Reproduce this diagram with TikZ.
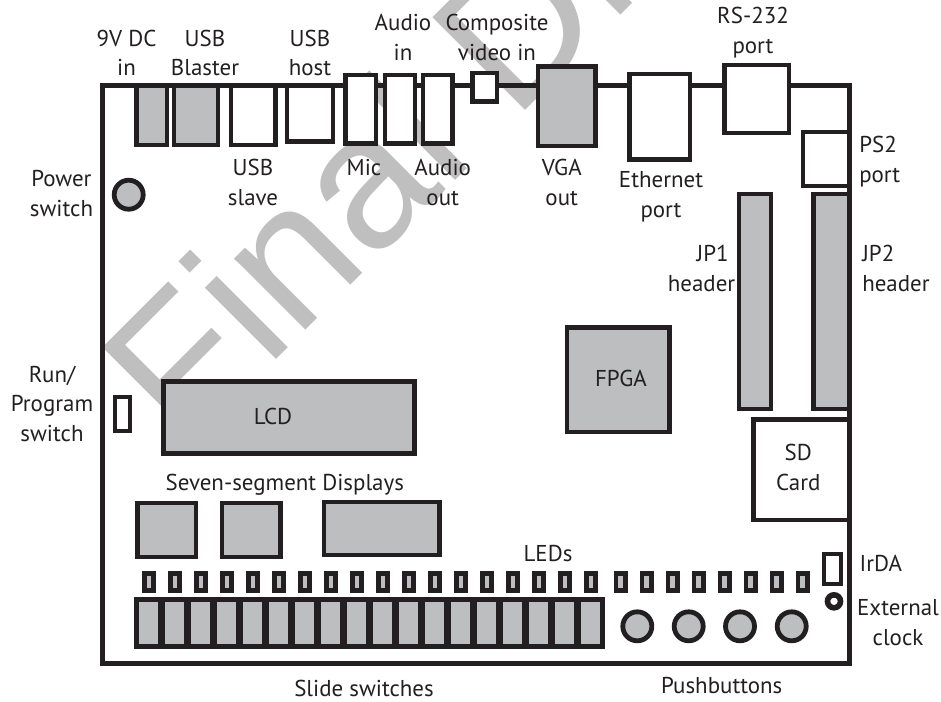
\documentclass[tikz,border=0pt]{standalone}
\usepackage{fontspec}
\setmainfont{PT Sans}
\newfontfamily\markfont{Liberation Sans}
\definecolor{boardink}{HTML}{231F20}
\definecolor{chipgray}{HTML}{BCBEC0}
\definecolor{markgray}{HTML}{BFBFBF}
\tikzset{
  part/.style={draw=boardink, line width=3.6pt, fill=white},
  chip/.style={part, fill=chipgray},
  lbl/.style={font=\fontsize{17.2}{22}\selectfont, text=boardink, align=center, anchor=base, inner sep=0pt},
  wmark/.style={font=\markfont\fontsize{143}{143}\selectfont, text=markgray, anchor=base west, inner sep=0pt, rotate=45},
}
\begin{document}
\begin{tikzpicture}[x=0.75pt,y=-0.75pt]
  \useasboundingbox (0,0) rectangle (941,701);
  % watermark
  \begin{scope}
    \clip (0,0) rectangle (941,701);
    \node[wmark] (draftmark) at (184.5,451.5) {Final Draft};
  \end{scope}
  % board outline
  \draw[draw=boardink, line width=3.75pt] (102.5,85.5) rectangle (849.5,663);
  % top edge connectors
  \draw[chip] (136.5,85.5) rectangle (167,145);
  \draw[chip] (174,85.5) rectangle (218,145);
  \draw[part] (231,85.5) rectangle (275.5,145);
  \draw[part] (287,85.5) rectangle (333,141.5);
  \draw[part] (345.8,75) rectangle (376,143.5);
  \draw[part] (385,75) rectangle (415,143.5);
  \draw[part] (423,75) rectangle (452.5,143.5);
  \draw[part] (472.5,73) rectangle (497,101.5);
  \draw[chip] (538,66.5) rectangle (595.5,146);
  \draw[part] (629.5,74) rectangle (690,159.5);
  \draw[part] (724.5,65) rectangle (789,133);
  % right edge parts
  \draw[part] (803,132) rectangle (849.5,186);
  \draw[chip] (739,194) rectangle (771,409);
  \draw[chip] (813.7,194) rectangle (849.5,409);
  \draw[part] (753.7,419.7) rectangle (849.5,520);
  \draw[chip] (567,327.5) rectangle (669.5,432);
  \draw[chip] (163.5,381.5) rectangle (414.5,453.5);
  \draw[part, line width=3pt] (115,397) rectangle (130,431);
  \draw[part, line width=3pt] (824,553.5) rectangle (841,584);
  \draw[chip] (128.7,194.7) circle (14.5);
  % seven segment displays
  \draw[chip] (137.7,503) rectangle (196,557);
  \draw[chip] (222,503) rectangle (280.3,557);
  \draw[chip] (324,502) rectangle (439.5,555);
  % leds and slide switches
  \foreach \i in {0,...,17}
    \draw[chip] (144.2+26*\i,573.2) rectangle ++(9.6,17.6);
  \foreach \i in {0,...,7}
    \draw[chip] (616+26*\i,573.2) rectangle ++(9.6,17.6);
  \foreach \i in {0,...,17}
    \draw[chip] (136.2+26*\i,599.5) rectangle ++(24.3,47);
  % pushbuttons and clock input
  \foreach \x in {637.3,688.7,740,791.7}
    \draw[chip] (\x,626.3) circle (14.5);
  \draw[part, line width=4.2pt] (834,601.3) circle (6.5);
  % labels
  \node[lbl] (dcin) at (126.5,75.7) {9V DC\\in};
  \node[lbl] (blaster) at (205,75.7) {USB\\Blaster};
  \node[lbl] (usbhost) at (310,75.7) {USB\\host};
  \node[lbl] (audioin) at (403,60) {Audio\\in};
  \node[lbl] (composite) at (497,60) {Composite\\video in};
  \node[lbl] (rsport) at (753,53) {RS-232\\port};
  \node[lbl] (usbslave) at (253,205) {USB\\slave};
  \node[lbl] (mic) at (364,175.7) {Mic};
  \node[lbl] (audioout) at (442.7,205) {Audio\\out};
  \node[lbl] (vgaout) at (561.7,205) {VGA\\out};
  \node[lbl] (ethport) at (661,217) {Ethernet\\port};
  \node[lbl, align=left, anchor=base west] (psport) at (859,182) {PS2\\port};
  \node[lbl] (powersw) at (61.5,216) {Power\\switch};
  \node[lbl, align=right, anchor=base east] (jpone) at (735.5,291) {JP1\kern5pt\\header};
  \node[lbl, align=left, anchor=base west] (jptwo) at (862,291) {JP2\\header};
  \node[lbl] (runsw) at (52,441) {Run/\\Program\\switch};
  \node[lbl] (lcdtext) at (273,424.7) {LCD};
  \node[lbl] (fpgatext) at (621,386.5) {FPGA};
  \node[lbl] (sdcard) at (798.3,490) {SD\\Card};
  \node[lbl] (sevenseg) at (284.8,490) {Seven-segment Displays};
  \node[lbl] (ledtext) at (548,561) {LEDs};
  \node[lbl, anchor=base west] (irda) at (859.3,571.7) {IrDA};
  \node[lbl] (extclock) at (898,645) {External\\clock};
  \node[lbl] (slidesw) at (364,696) {Slide switches};
  \node[lbl] (pushbtn) at (721.7,693) {Pushbuttons};
\end{tikzpicture}
\end{document}
